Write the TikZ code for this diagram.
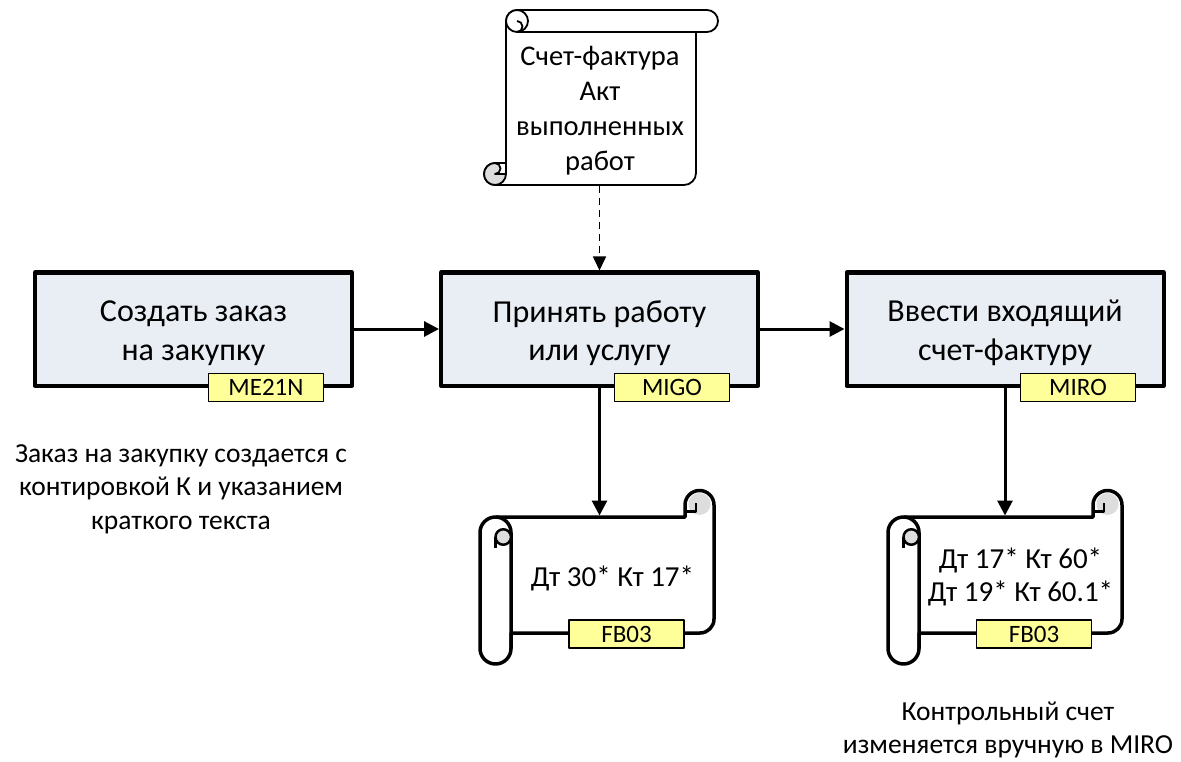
\documentclass[tikz,border=0pt]{standalone}
\usepackage{fontspec}
\setmainfont{Carlito}
\usetikzlibrary{arrows.meta}
\definecolor{boxfill}{HTML}{E9EDF4}
\definecolor{tagfill}{HTML}{FFFF99}
\definecolor{curlfill}{HTML}{DDDDDD}
\newcommand\myhscroll{%
  \filldraw[scrollline, fill=white] (0,532.5) arc[start angle=180,end angle=270,radius=15.5] -- (205,517) -- (205,505) arc[start angle=180,end angle=360,radius=14.5] -- (234,619) arc[start angle=0,end angle=90,radius=14] -- (31,633) -- (31,648.5) arc[start angle=0,end angle=180,radius=15.5] -- cycle;
  \draw[scrollline] (15.5,517) arc[start angle=270,end angle=360,radius=15.5] -- (31,648.5);
  \fill[curlfill] (219.5,504) circle[radius=11];
  \draw[line width=2.5pt] (216,503) -- (216,511.5) -- (205,511.5);
  \filldraw[line width=2.5pt, fill=curlfill] (23.25,537) circle[radius=7.75];
  \draw[line width=2.5pt] (15.5,537) -- (15.5,548);
}
\tikzset{
  procbox/.style={draw, line width=4pt, fill=boxfill, minimum width=317pt, minimum height=113pt, inner sep=0pt},
  boxtext/.style={align=center, inner sep=0pt, font=\fontsize{32}{38.5}\selectfont},
  tagbox/.style={draw, line width=1.3pt, fill=tagfill, minimum width=115pt, minimum height=28pt, inner sep=0pt, font=\fontsize{25}{28}\selectfont},
  conn/.style={line width=3pt, -{Triangle[length=15pt,width=15pt]}},
  dconn/.style={line width=1.5pt, dash pattern=on 7pt off 5pt, -{Triangle[length=14pt,width=13pt]}},
  note/.style={align=center, inner sep=0pt, font=\fontsize{27.5}{33.5}\selectfont},
  scrolltext/.style={align=center, inner sep=0pt, font=\fontsize{29}{33}\selectfont},
  doctext/.style={align=center, inner sep=0pt, font=\fontsize{28.5}{35}\selectfont},
  scrollline/.style={line width=3.5pt},
  docline/.style={line width=1.8pt}
}
\begin{document}
\begin{tikzpicture}[x=1pt,y=-1pt,line join=round]
\useasboundingbox (0,0) rectangle (1181,762);

% top document scroll
\filldraw[docline, fill=white] (506,21) arc[start angle=180,end angle=270,radius=11] -- (707,10) arc[start angle=270,end angle=450,radius=11] -- (696,32) -- (696,173) arc[start angle=0,end angle=90,radius=12] -- (495,185) arc[start angle=90,end angle=270,radius=11] -- (506,163) -- cycle;
\filldraw[docline, fill=white] (517,21) circle[radius=11];
\draw[docline] (517,21) arc[start angle=270,end angle=450,radius=5.5];
\draw[docline] (517,32) -- (696,32);
\filldraw[docline, fill=curlfill] (495,174) circle[radius=11];
\filldraw[docline, fill=white] (495,163) arc[start angle=270,end angle=450,radius=5.5] -- (506,174) -- (506,163) -- cycle;
\node[doctext] (doc) at (600,111) {Счет-фактура\\Акт\\выполненных\\работ};

% horizontal scrolls
\begin{scope}[shift={(480,0)}]
  \myhscroll
\end{scope}
\begin{scope}[shift={(888,0)}]
  \myhscroll
\end{scope}
\node[scrolltext] (t2) at (612.5,578) {Дт 30* Кт 17*};
\node[scrolltext] (t3) at (1020.5,577) {Дт 17* Кт 60*\\Дт 19* Кт 60.1*};

% process boxes
\node[procbox] (b1) at (193.5,329) {};
\node[procbox] (b2) at (599.5,329) {};
\node[procbox] (b3) at (1005,329) {};
\node[boxtext] (b1t) at (193.5,333) {Создать заказ\\на закупку};
\node[boxtext] (b2t) at (599.5,333) {Принять работу\\или услугу};
\node[boxtext] (b3t) at (1005,333) {Ввести входящий\\счет-фактуру};

% connectors
\coordinate (docbot) at (599.5,186);
\coordinate (s2top) at (599.5,515.5);
\coordinate (s3top) at (1005,515.5);
\draw[conn] (b1.east) -- (b2.west);
\draw[conn] (b2.east) -- (b3.west);
\draw[dconn] (docbot) -- (b2.north);
\draw[conn] (b2.south) -- (s2top);
\draw[conn] (b3.south) -- (s3top);

% tags
\node[tagbox] (g1) at (266,387.5) {ME21N};
\node[tagbox] (g2) at (672,387.5) {MIGO};
\node[tagbox] (g3) at (1078,387.5) {MIRO};
\node[tagbox] (g4) at (626.5,634) {FB03};
\node[tagbox] (g5) at (1034,634) {FB03};

% notes
\node[note] (n1) at (181,489) {Заказ на закупку создается с\\контировкой К и указанием\\краткого текста};
\node[note] (n2) at (1008,730) {Контрольный счет\\изменяется вручную в MIRO};
\end{tikzpicture}
\end{document}
